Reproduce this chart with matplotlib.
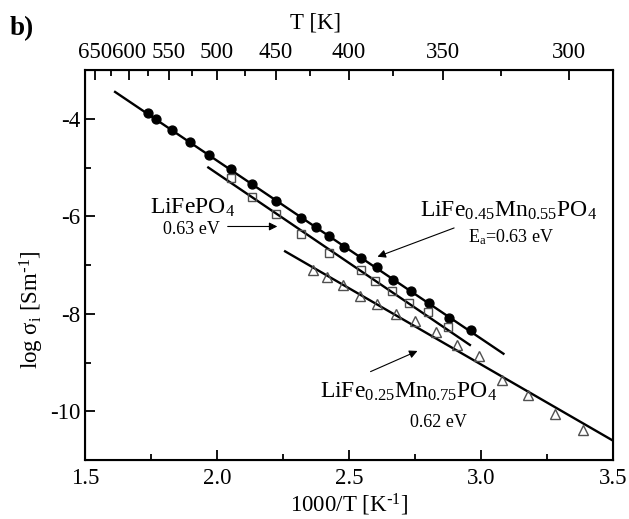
import numpy as np
import matplotlib
matplotlib.use("Agg")
import matplotlib.pyplot as plt

plt.rcParams['font.family'] = ['Liberation Serif', 'DejaVu Serif']
plt.rcParams['mathtext.default'] = 'regular'
plt.rcParams['axes.unicode_minus'] = False

# LiFe0.45Mn0.55PO4 (filled circles)
x_mn55 = [1.740, 1.769, 1.831, 1.898, 1.970, 2.052, 2.131, 2.222, 2.318, 2.374,
          2.425, 2.482, 2.545, 2.605, 2.668, 2.735, 2.804, 2.880, 2.961]
y_mn55 = [-3.88, -4.01, -4.23, -4.47, -4.74, -5.03, -5.33, -5.68, -6.03, -6.22,
          -6.41, -6.63, -6.85, -7.05, -7.30, -7.53, -7.78, -8.08, -8.33]

# LiFePO4 (open squares)
x_fe = [2.052, 2.133, 2.222, 2.318, 2.424, 2.544, 2.600, 2.663, 2.729, 2.801, 2.875]
y_fe = [-5.22, -5.60, -5.96, -6.37, -6.75, -7.11, -7.33, -7.53, -7.78, -7.96, -8.28]

# LiFe0.25Mn0.75PO4 (open triangles)
x_mn75 = [2.362, 2.418, 2.476, 2.542, 2.607, 2.677, 2.750, 2.830, 2.908, 2.992,
          3.081, 3.177, 3.280, 3.388]
y_mn75 = [-7.11, -7.25, -7.42, -7.63, -7.80, -8.01, -8.14, -8.37, -8.64, -8.87,
          -9.35, -9.66, -10.05, -10.38]

# Arrhenius fit lines (end points)
fit_mn55 = ([1.614, 3.085], [-3.45, -8.82])
fit_fe = ([1.967, 2.958], [-5.00, -8.64])
fit_mn75 = ([2.258, 3.499], [-6.72, -10.60])

# top axis temperatures
T_major = [650, 600, 550, 500, 450, 400, 350, 300]
T_minor = [625, 575, 525, 475, 425, 375, 325]

fig = plt.figure(figsize=(6.29, 5.19), dpi=100)
ax = fig.add_axes([85/629, 1-460/519, 528/629, 390/519])

fs = 16.5
grey = '#505050'

ax.plot(*fit_mn55, color='black', lw=1.7, zorder=2)
ax.plot(*fit_fe, color='black', lw=1.7, zorder=2)
ax.plot(*fit_mn75, color='black', lw=1.7, zorder=2)

ax.plot(x_mn55, y_mn55, 'o', color='black', ms=6.4, zorder=3)
ax.plot(x_fe, y_fe, 's', mfc='none', mec=grey, mew=1.0, ms=6.2, zorder=3)
ax.plot(x_mn75, y_mn75, '^', mfc='none', mec=grey, mew=1.0, ms=7.5, zorder=3)

ax.set_xlim(1.5, 3.5)
ax.set_ylim(-11, -3)
ax.set_xticks([1.5, 2.0, 2.5, 3.0, 3.5])
ax.set_xticklabels(['1.5', '2.0', '2.5', '3.0', '3.5'])
ax.set_xticks([1.75, 2.25, 2.75, 3.25], minor=True)
ax.set_yticks([-4, -6, -8, -10])
ax.set_yticks([-5, -7, -9], minor=True)
ax.tick_params(which='both', direction='in', labelsize=fs, top=False, right=False, width=1.3)
ax.tick_params(which='major', length=7)
ax.tick_params(which='minor', length=4.5)
ax.tick_params(axis='x', pad=6)
for s in ax.spines.values():
    s.set_linewidth(1.5)

ax2 = ax.twiny()
ax2.set_xlim(ax.get_xlim())
ax2.set_xticks([1000.0 / t for t in T_major])
ax2.set_xticklabels([str(t) for t in T_major])
ax2.set_xticks([1000.0 / t for t in T_minor], minor=True)
ax2.tick_params(which='both', direction='in', labelsize=fs, width=1.3, pad=5)
ax2.tick_params(which='major', length=7)
ax2.tick_params(which='minor', length=4.5)

ax.set_xlabel(r'1000/T [K$^{\text{-}1}$]', fontsize=fs, labelpad=2)
fig.text(32/629, 1-310/519, r'log σ$_{i}$ [Sm$^{\text{-}1}$]', fontsize=fs, rotation=90,
         ha='center', va='center')
fig.text(316/629, 1-23/519, 'T [K]', fontsize=fs, ha='center', va='center')
fig.text(10/629, 1-35/519, 'b)', fontsize=19.5, fontweight='bold', ha='left', va='baseline')

# annotations
ax.text(1.746, -5.94, 'LiFePO$_4$', fontsize=17, ha='left', va='baseline')
ax.text(1.795, -6.36, '0.63 eV', fontsize=13, ha='left', va='baseline')
ax.annotate('', xy=(2.239, -6.21), xytext=(2.030, -6.21),
            arrowprops=dict(arrowstyle='-|>', color='black', lw=0.8, mutation_scale=12))

ax.text(2.769, -6.01, 'LiFe$_{0.45}$Mn$_{0.55}$PO$_4$', fontsize=17, ha='left', va='baseline')
ax.text(2.952, -6.53, 'E$_a$=0.63 eV', fontsize=13, ha='left', va='baseline')
ax.annotate('', xy=(2.598, -6.85), xytext=(2.908, -6.22),
            arrowprops=dict(arrowstyle='-|>', color='black', lw=0.8, mutation_scale=12))

ax.text(2.390, -9.73, 'LiFe$_{0.25}$Mn$_{0.75}$PO$_4$', fontsize=17, ha='left', va='baseline')
ax.text(2.731, -10.33, '0.62 eV', fontsize=13, ha='left', va='baseline')
ax.annotate('', xy=(2.769, -8.74), xytext=(2.572, -9.21),
            arrowprops=dict(arrowstyle='-|>', color='black', lw=0.8, mutation_scale=12))

fig.savefig('out.png', dpi=100)
